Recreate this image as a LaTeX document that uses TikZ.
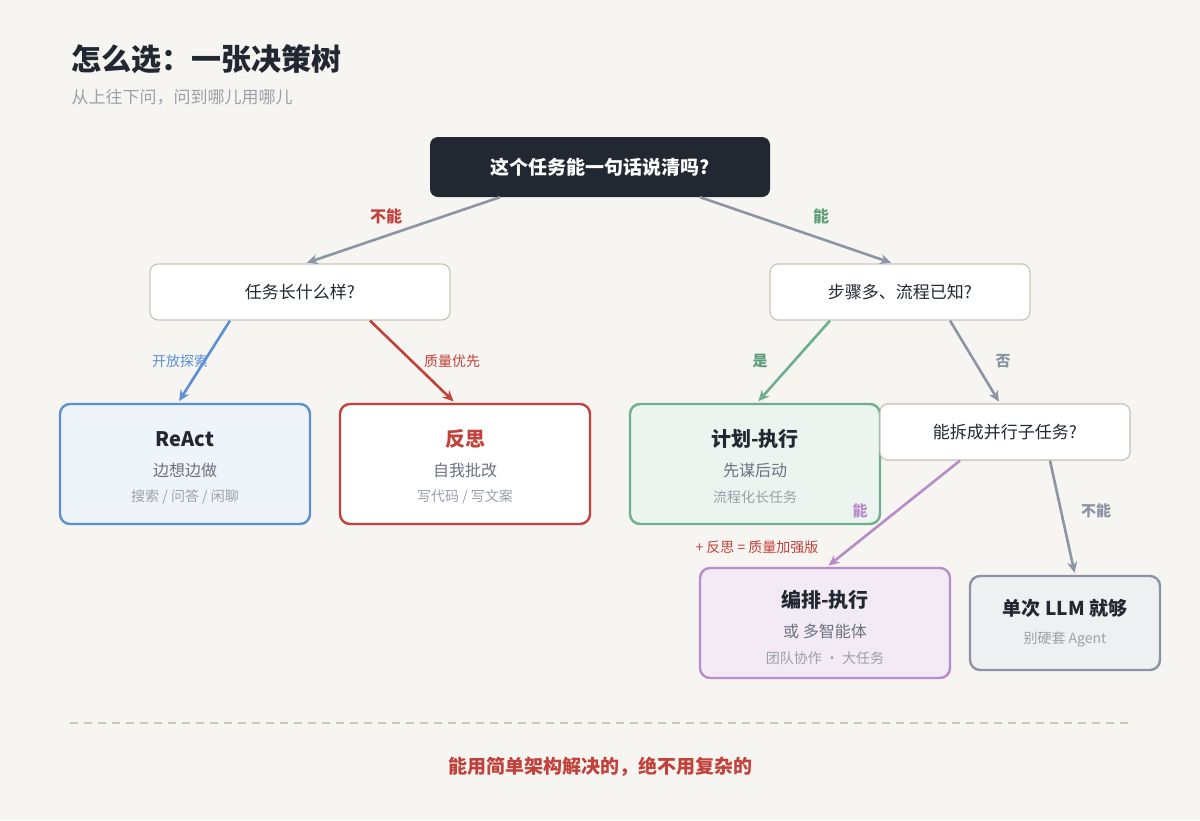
\documentclass[tikz,border=0pt]{standalone}
\usepackage{fontspec}
\setmainfont{Noto Sans CJK SC}
\usetikzlibrary{arrows.meta}
\definecolor{bg}{HTML}{F7F5F1}
\definecolor{ink}{HTML}{222831}
\definecolor{line}{HTML}{8C95A5}
\definecolor{frame}{HTML}{CCC5B8}
\definecolor{blu}{HTML}{5B8FD6}
\definecolor{rd}{HTML}{C2413A}
\definecolor{grn}{HTML}{6DAE8C}
\definecolor{grnT}{HTML}{5E9E7A}
\definecolor{pur}{HTML}{B98BC8}
\definecolor{gry}{HTML}{8A93A3}
\definecolor{sub}{HTML}{6B7280}
\definecolor{note}{HTML}{9AA0AA}

\newcommand{\fs}[1]{\fontsize{#1}{#1}\selectfont}

\begin{document}
\begin{tikzpicture}[%
    x=1pt, y=-1pt,
    question/.style={draw=frame, line width=1.2pt, fill=white, rounded corners=8pt,
        minimum height=56pt, font=\fs{17}, text=ink},
    result/.style={line width=2.4pt, rounded corners=10pt, minimum width=250pt, minimum height=120pt},
    edge/.style={line width=2.6pt, -{Stealth[length=11pt,width=10pt]}, shorten >=2pt},
    tag/.style={font=\fs{14}},
    ]
    \fill[bg] (0,0) rectangle (1200,820);
    \useasboundingbox (0,0) rectangle (1200,820);
    % heading
    \node[anchor=west, font=\fs{30}\bfseries, text=ink] (title) at (68,59) {怎么选：一张决策树};
    \node[anchor=west, font=\fs{17}, text=note] (subtitle) at (68,97) {从上往下问，问到哪儿用哪儿};
    % questions
    \node[fill=ink, rounded corners=8pt, minimum width=340pt, minimum height=60pt,
        text=white, font=\fs{19}\bfseries] (root) at (600,167) {这个任务能一句话说清吗?};
    \node[question, minimum width=300pt] (q1) at (300,292) {任务长什么样?};
    \node[question, minimum width=260pt] (q2) at (900,292) {步骤多、流程已知?};
    \node[question, minimum width=250pt] (q3) at (1005,432) {能拆成并行子任务?};
    % results
    \node[result, draw=blu, fill=blu!10] (react) at (185,464) {};
    \node[font=\fs{20}\bfseries, text=ink] (reactT) at (185,439) {ReAct};
    \node[font=\fs{16}, text=sub] (reactS) at (185,470) {边想边做};
    \node[font=\fs{14}, text=note] (reactN) at (185,497) {搜索 / 问答 / 闲聊};
    \node[result, draw=rd, fill=white] (reflect) at (465,464) {};
    \node[font=\fs{20}\bfseries, text=rd] (reflectT) at (465,439) {反思};
    \node[font=\fs{16}, text=sub] (reflectS) at (465,470) {自我批改};
    \node[font=\fs{14}, text=note] (reflectN) at (465,497) {写代码 / 写文案};
    \node[result, draw=grn, fill=grn!14] (plan) at (755,464) {};
    \node[font=\fs{20}\bfseries, text=ink] (planT) at (755,439) {计划-执行};
    \node[font=\fs{16}, text=sub] (planS) at (755,470) {先谋后动};
    \node[font=\fs{14}, text=note] (planN) at (755,497) {流程化长任务};
    \node[result, draw=pur, fill=pur!18, minimum height=110pt] (orch) at (825,623) {};
    \node[font=\fs{20}\bfseries, text=ink] (orchT) at (825,600) {编排-执行};
    \node[font=\fs{16}, text=sub] (orchS) at (825,631) {或 多智能体};
    \node[font=\fs{14}, text=note] (orchN) at (825,658) {团队协作 · 大任务};
    \node[result, draw=gry, fill=gry!14, minimum width=190pt, minimum height=94pt] (single) at (1065,623) {};
    \node[font=\fs{19}\bfseries, text=ink] (singleT) at (1065,608) {单次 LLM 就够};
    \node[font=\fs{14}, text=note] (singleN) at (1065,639) {别硬套 Agent};
    % questions over results
    \node[question, minimum width=250pt] at (1005,432) {能拆成并行子任务?};
    % connectors
    \draw[edge, line] ([xshift=-100pt]root.south) -- ([xshift=5pt]q1.north);
    \draw[edge, line] ([xshift=100pt]root.south) -- ([xshift=-7pt]q2.north);
    \draw[edge, blu] ([xshift=-70pt]q1.south) -- ([xshift=-7pt]react.north);
    \draw[edge, rd] ([xshift=70pt]q1.south) -- ([xshift=-10pt]reflect.north);
    \draw[edge, grn] ([xshift=-70pt]q2.south) -- ([xshift=2pt]plan.north);
    \draw[edge, line] ([xshift=50pt]q2.south) -- ([xshift=-5pt]q3.north);
    \draw[edge, pur] ([xshift=-45pt]q3.south) -- ([xshift=2pt]orch.north);
    \draw[edge, line] ([xshift=45pt]q3.south) -- ([xshift=10pt]single.north);
    % labels
    \node[font=\fs{16}\bfseries, text=rd] (noA) at (386,216) {不能};
    \node[font=\fs{16}\bfseries, text=grnT] (yesA) at (821,216) {能};
    \node[tag, text=blu] (explore) at (180,361) {开放探索};
    \node[tag, text=rd] (quality) at (452,361) {质量优先};
    \node[tag, text=grnT, font=\fs{15}\bfseries] (yesB) at (760,361) {是};
    \node[tag, text=gry, font=\fs{15}\bfseries] (noB) at (1003,361) {否};
    \node[tag, text=pur, font=\fs{15}\bfseries] (yesC) at (860,511) {能};
    \node[tag, text=rd] (plus) at (757,547) {+ 反思 = 质量加强版};
    \node[tag, text=gry, font=\fs{15}\bfseries] (noC) at (1096,511) {不能};
    % footer
    \draw[frame, line width=1.3pt, dash pattern=on 8pt off 6pt] (70,723) -- (1130,723);
    \node[font=\fs{19}\bfseries, text=rd] (motto) at (600,767) {能用简单架构解决的，绝不用复杂的};
\end{tikzpicture}
\end{document}
